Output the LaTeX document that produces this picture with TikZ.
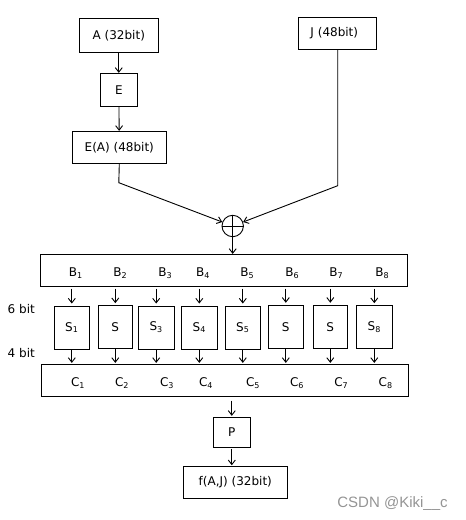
\documentclass[tikz,border=0pt]{standalone}
\usepackage{fontspec}
\setmainfont{DejaVu Sans}
\newfontfamily\wmfont{Liberation Sans}
\usetikzlibrary{arrows.meta,calc}
\begin{document}
\begin{tikzpicture}[x=1pt,y=-1pt,line width=0.9pt,
  box/.style={draw,inner sep=0pt,font=\fontsize{12}{14}\selectfont},
  lbl/.style={inner sep=0pt,font=\fontsize{12}{14}\selectfont},
  sbox/.style={box,minimum width=35pt,minimum height=43pt},
  arr/.style={-{Straight Barb[length=4.5pt,width=7pt]}}]
\useasboundingbox (0,0) rectangle (466,520);
% top
\node[box,minimum width=79pt,minimum height=34pt] (a) at (118.8,35.3) {A (32bit)};
\node[box,minimum width=78pt,minimum height=32pt] (j) at (337.3,33.3) {J (48bit)\hspace*{6pt}};
\node[box,minimum width=37pt,minimum height=33pt] (e) at (118.8,89.8) {E};
\node[box,minimum width=94pt,minimum height=32pt] (ea) at (119.3,147.3) {E(A) (48bit)};
\coordinate (eac) at (118.8,182.7);
\coordinate (jc) at (337.7,185.7);
\node[draw,circle,minimum size=21.4pt,inner sep=0pt] (x) at (232.7,226) {};
\draw (x.north) -- (x.south) (x.west) -- (x.east);
\draw[arr] (a) -- (e);
\draw[arr] (e) -- (ea);
\draw[arr] (ea.south) -- (eac) -- (x);
\draw[arr] (j.south -| jc) -- (jc) -- (x);
% B box
\node[box,minimum width=367pt,minimum height=31.7pt] (b) at (223.8,270.2) {};
\draw[arr] (x.south) -- (b.north -| x.south);
\foreach \i/\xx in {1/72.7,2/117.3,3/162.3,4/200,5/244.3,6/289.3,7/333.3,8/379.3}
  \node[lbl] (bl\i) at (\xx+3,273.3) {B\textsubscript{\i}};
% S boxes
\node[sbox] (s1) at (71.8,327.5) {S\textsubscript{1}};
\node[sbox,minimum width=34pt] (s2) at (115.3,327.1) {S};
\node[sbox,minimum width=35.7pt] (s3) at (156.2,327.5) {S\textsubscript{3}};
\node[sbox,minimum width=36pt] (s4) at (199.3,327.5) {S\textsubscript{4}};
\node[sbox] (s5) at (242.8,327.5) {S\textsubscript{5}};
\node[sbox] (s6) at (285.8,326.7) {S};
\node[sbox,minimum width=34pt] (s7) at (330.3,326.7) {S};
\node[sbox,minimum width=36pt] (s8) at (374.3,327.1) {S\textsubscript{8}};
\node[lbl,anchor=west] (six) at (7.3,309) {6 bit};
\node[lbl,anchor=west] (four) at (7.3,353.3) {4 bit};
% C box
\node[box,minimum width=367.3pt,minimum height=31.7pt] (c) at (224.7,380.2) {};
\foreach \i/\xx in {1/75,2/119,3/164,4/203,5/250,6/294,7/338.3,8/382.7}
  \node[lbl] (cl\i) at (\xx+3,383.3) {C\textsubscript{\i}};
\foreach \i in {1,...,8} {
  \draw[arr,shorten <=2pt,shorten >=2pt] (b.south -| s\i.north) -- (s\i.north);
  \draw[arr,shorten >=1pt] (s\i.south) -- (c.north -| s\i.south);
}
% P and f
\node[box,minimum width=37pt,minimum height=30pt] (p) at (231.8,432.3) {P};
\node[box,minimum width=104pt,minimum height=31.6pt] (f) at (235.3,482.5) {f(A,J) (32bit)};
\draw[arr,shorten <=4pt,shorten >=1pt] (c.south -| p.north) -- (p.north);
\draw[arr,shorten <=1pt,shorten >=1pt] (p.south) -- (f.north -| p.south);
\node[inner sep=0pt,text=black!42,font=\wmfont\fontsize{15}{17}\selectfont] (wm) at (392.5,503.5) {CSDN @Kiki\_\_c};
\end{tikzpicture}
\end{document}
